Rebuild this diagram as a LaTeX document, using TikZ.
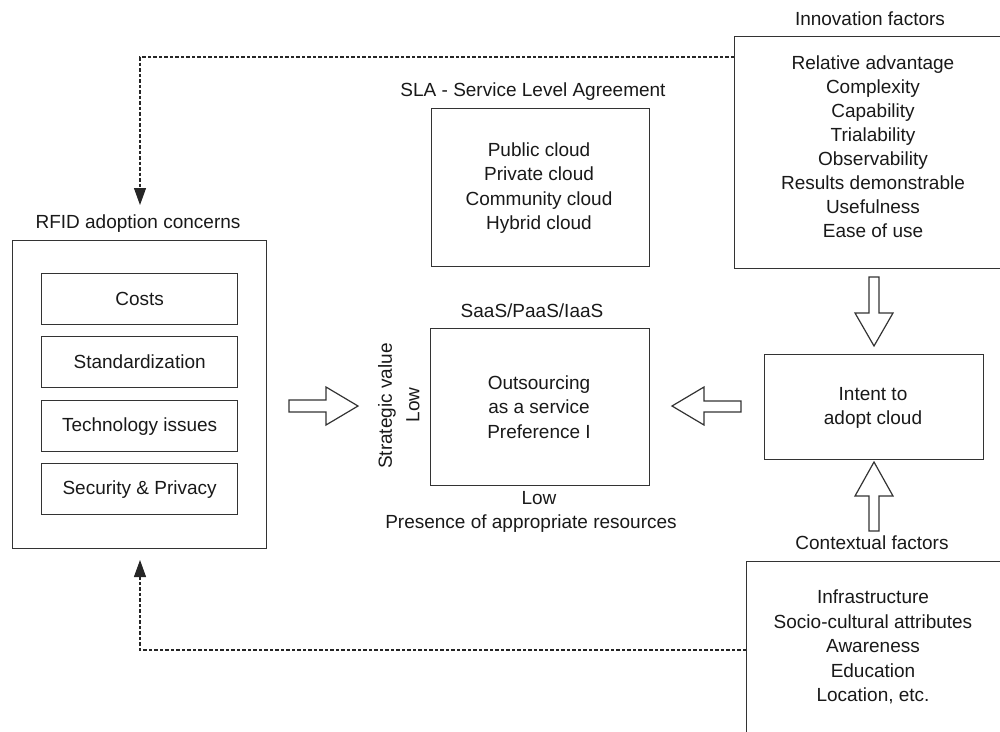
\documentclass[tikz,border=0pt]{standalone}
\usepackage{fontspec}
\setmainfont{Liberation Sans}
\usetikzlibrary{arrows.meta}
\begin{document}
\begin{tikzpicture}[x=1pt,y=-1pt,
  box/.style={draw=black!80,line width=1.3pt,inner sep=0pt,anchor=north west},
  txt/.style={font=\fontsize{19}{24.5}\selectfont,align=center,inner sep=0pt,text=black!90},
  dline/.style={draw=black!85,line width=1.1pt,dash pattern=on 3.5pt off 2pt},
  tipend/.style={-{Triangle[length=17pt,width=12pt]}},
  barrow/.style={draw=black!80,line width=1.2pt,fill=white,line join=miter}
]
\useasboundingbox (0,0) rectangle (1000,731);

% boxes
\node[box,minimum width=280pt,minimum height=232pt] (inno) at (734,36) {};
\node[box,minimum width=218pt,minimum height=158pt] (sla) at (431,108) {};
\node[box,minimum width=254pt,minimum height=308pt] (rfid) at (12,240) {};
\node[box,minimum width=196pt,minimum height=51pt] (b1) at (41,273) {};
\node[box,minimum width=196pt,minimum height=51pt] (b2) at (41,336) {};
\node[box,minimum width=196pt,minimum height=51pt] (b3) at (41,400) {};
\node[box,minimum width=196pt,minimum height=51pt] (b4) at (41,463) {};
\node[box,minimum width=219pt,minimum height=157pt] (saas) at (430,328) {};
\node[box,minimum width=219pt,minimum height=105pt] (intent) at (764,354) {};
\node[box,minimum width=280pt,minimum height=200pt] (ctx) at (746,561) {};

% labels
\node[txt] (innol) at (870,19) {Innovation factors};
\node[txt,font=\fontsize{19}{24}\selectfont] (innot) at (873,147) {Relative advantage\\Complexity\\Capability\\Trialability\\Observability\\Results demonstrable\\Usefulness\\Ease of use};
\node[txt] (slal) at (533,92) {SLA - Service Level Agreement};
\node[txt] (slat) at (539,188) {Public cloud\\Private cloud\\Community cloud\\Hybrid cloud};
\node[txt] (rfidl) at (138,224) {RFID adoption concerns};
\node[txt] (t1) at (b1) {Costs};
\node[txt] (t2) at (b2) {Standardization};
\node[txt] (t3) at (b3) {Technology issues};
\node[txt] (t4) at (b4) {Security \& Privacy};
\node[txt] (saasl) at (532,311) {SaaS/PaaS/IaaS};
\node[txt] (saast) at (539,407) {Outsourcing\\as a service\\Preference I};
\node[txt] (lowx) at (539,498) {Low};
\node[txt] (pres) at (531,524) {Presence of appropriate resources};
\node[txt,rotate=90] (sv) at (387,406) {Strategic value};
\node[txt,rotate=90] (lowy) at (413,405) {Low};
\node[txt] (intentt) at (873,408) {Intent to\\adopt cloud};
\node[txt] (ctxl) at (872,543) {Contextual factors};
\node[txt] (ctxt) at (873,647) {Infrastructure\\Socio-cultural attributes\\Awareness\\Education\\Location, etc.};

% block arrows
\draw[barrow] (289,400) -- (326,400) -- (326,387) -- (358,406) -- (326,425) -- (326,412) -- (289,412) -- cycle;
\draw[barrow] (741,401) -- (704,401) -- (704,387) -- (672,406) -- (704,425) -- (704,412) -- (741,412) -- cycle;
\draw[barrow] (869,277) -- (869,313) -- (855,313) -- (874,346) -- (893,313) -- (879,313) -- (879,277) -- cycle;
\draw[barrow] (869,531) -- (869,496) -- (855,496) -- (874,462) -- (893,496) -- (879,496) -- (879,531) -- cycle;

% dashed feedback lines
\coordinate (e1) at (140,205);
\coordinate (e2) at (140,560);
\draw[dline,tipend] ([yshift=-21pt]inno.north west) -| (e1);
\draw[dline,tipend] ([yshift=-89pt]ctx.north west) -| (e2);
\end{tikzpicture}
\end{document}
